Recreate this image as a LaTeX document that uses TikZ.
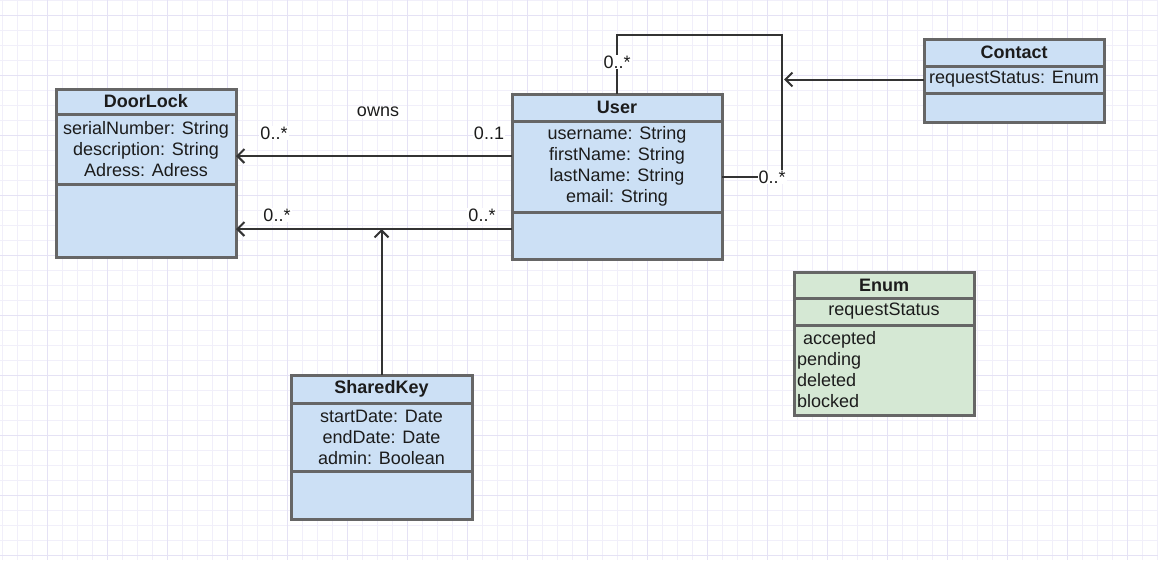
\documentclass[tikz,border=0pt]{standalone}
\usepackage{fontspec}
\setmainfont{Liberation Sans}
\usetikzlibrary{arrows.meta,positioning}
\definecolor{umlblue}{RGB}{204,224,245}
\definecolor{umlgreen}{RGB}{213,232,212}
\definecolor{boxgray}{RGB}{102,102,102}
\definecolor{edgegray}{RGB}{51,51,51}
\definecolor{txtgray}{RGB}{28,28,28}
\definecolor{gridminor}{RGB}{241,239,250}
\definecolor{gridmajor}{RGB}{229,226,245}

\begin{document}
\begin{tikzpicture}[x=1pt, y=-1pt,
  every node/.style={font=\fontsize{18}{21}\selectfont, text=txtgray},
  umlpart/.style={draw=boxgray, line width=3pt, fill=umlblue, inner xsep=3pt, inner ysep=0pt, outer sep=0pt, anchor=north, align=center},
  umlhead/.style={umlpart, font=\fontsize{18}{21}\selectfont\bfseries},
  assoc/.style={draw=edgegray, line width=2pt, -{Straight Barb[length=7pt,width=14pt]}},
  link/.style={draw=edgegray, line width=2pt},
  mult/.style={fill=white, inner sep=1pt}]
\useasboundingbox (0,0) rectangle (1158,560);
% Background grid
\fill[white] (0,0) rectangle (1158,560);
\foreach \x in {2.5,17.5,...,1158} \draw[gridminor, line width=1pt] (\x,0) -- (\x,560);
\foreach \y in {0,15,...,560} \draw[gridminor, line width=1pt] (0,\y) -- (1158,\y);
\foreach \x in {47.5,107.5,...,1158} \draw[gridmajor, line width=1pt] (\x,0) -- (\x,560);
\foreach \y in {15,75,...,560} \draw[gridmajor, line width=1pt] (0,\y) -- (1158,\y);
% DoorLock
\node[umlhead, minimum width=180pt, minimum height=25pt] (doorlock) at (146,89) {DoorLock};
\node[umlpart, minimum width=180pt, minimum height=70pt] (doorlock-attr) at (doorlock.south) {serialNumber: String\\description: String\\Adress: Adress};
\node[umlpart, minimum width=180pt, minimum height=73pt] (doorlock-ops) at (doorlock-attr.south) {};
% User
\node[umlhead, minimum width=210pt, minimum height=27pt] (user) at (617,94) {User};
\node[umlpart, minimum width=210pt, minimum height=91pt] (user-attr) at (user.south) {username: String\\firstName: String\\lastName: String\\email: String};
\node[umlpart, minimum width=210pt, minimum height=47pt] (user-ops) at (user-attr.south) {};
% Contact
\node[umlhead, minimum width=180pt, minimum height=27pt] (contact) at (1014,39) {Contact};
\node[umlpart, minimum width=180pt, minimum height=27pt] (contact-attr) at (contact.south) {requestStatus: Enum};
\node[umlpart, minimum width=180pt, minimum height=29pt] (contact-ops) at (contact-attr.south) {};
% SharedKey
\node[umlhead, minimum width=181pt, minimum height=28pt] (sharedkey) at (381.5,375) {SharedKey};
\node[umlpart, minimum width=181pt, minimum height=68pt] (sharedkey-attr) at (sharedkey.south) {startDate: Date\\endDate: Date\\admin: Boolean};
\node[umlpart, minimum width=181pt, minimum height=48pt] (sharedkey-ops) at (sharedkey-attr.south) {};
% Enum
\node[umlhead, fill=umlgreen, minimum width=180pt, minimum height=26pt] (enum) at (884,272) {Enum};
\node[umlpart, fill=umlgreen, minimum width=180pt, minimum height=27pt] (enum-name) at (enum.south) {requestStatus};
\node[umlpart, fill=umlgreen, minimum width=180pt, minimum height=90pt, text width=174pt, align=left] (enum-values) at (enum-name.south) {\ accepted\\pending\\deleted\\blocked};
% Associations
\coordinate (ownsU) at ([yshift=10.5pt]user-attr.west);
\coordinate (keyU) at ([yshift=6.5pt]user-ops.west);
\coordinate (loopU) at ([yshift=-10.5pt]user-attr.east);
\coordinate (loopcorner) at (782,35);
\draw[assoc] (ownsU) -- (ownsU -| doorlock-attr.east);
\draw[assoc] (keyU) -- (keyU -| doorlock-ops.east);
\draw[assoc] (sharedkey.north) -- (sharedkey.north |- keyU);
\draw[link] (loopU) -| (loopcorner) -| (user.north);
\draw[assoc, shorten >=2pt] (contact-attr.west) -- (contact-attr.west -| loopcorner);
% Labels
\node[mult] (lbl-owns) at (378,112) {owns};
\node[mult] (mult-dl1) at (274,133) {0..*};
\node[mult] (mult-u1) at (489,133) {0..1};
\node[mult] (mult-dl2) at (277,215) {0..*};
\node[mult] (mult-u2) at (482,215) {0..*};
\node[mult] (mult-top) at (617,62) {0..*};
\node[mult] (mult-right) at (772,177) {0..*};
\end{tikzpicture}
\end{document}
